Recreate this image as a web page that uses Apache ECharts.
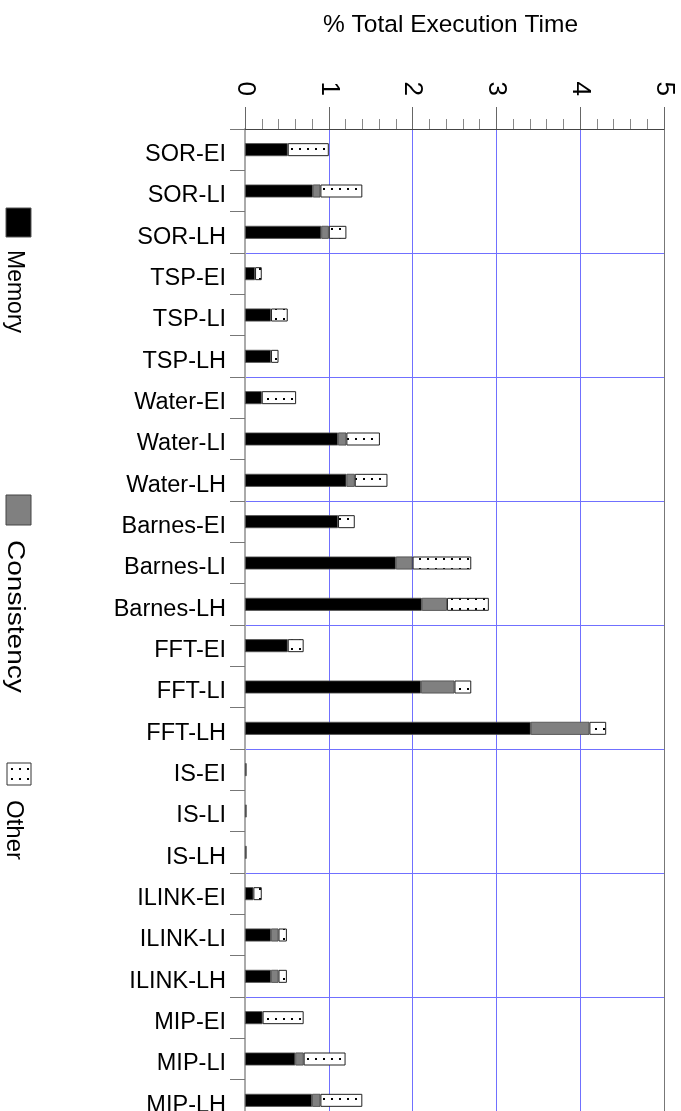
<!DOCTYPE html>
<html><head><meta charset="utf-8">
<script src="https://cdn.jsdelivr.net/npm/echarts@6/dist/echarts.min.js"></script>
<style>html,body{margin:0;padding:0;background:#fff;overflow:hidden}#c{width:681px;height:1121px}</style>
</head><body><div id="c"></div>
<script>
const categories = ['SOR-EI','SOR-LI','SOR-LH','TSP-EI','TSP-LI','TSP-LH','Water-EI','Water-LI','Water-LH','Barnes-EI','Barnes-LI','Barnes-LH','FFT-EI','FFT-LI','FFT-LH','IS-EI','IS-LI','IS-LH','ILINK-EI','ILINK-LI','ILINK-LH','MIP-EI','MIP-LI','MIP-LH'];
const memory      = [0.51,0.81,0.91, 0.12,0.31,0.31, 0.20,1.11,1.21, 1.11,1.80,2.11, 0.51,2.10,3.41, 0.02,0.02,0.02, 0.10,0.31,0.31, 0.21,0.60,0.80];
const consistency = [0,   0.09,0.09, 0,   0,   0,    0,   0.10,0.10, 0,   0.20,0.30, 0,   0.40,0.70, 0,   0,   0,    0,   0.09,0.09, 0,   0.10,0.10];
const other       = [0.49,0.50,0.21, 0.08,0.20,0.09, 0.41,0.40,0.39, 0.20,0.70,0.50, 0.19,0.20,0.20, 0,   0,   0,    0.10,0.10,0.10, 0.49,0.50,0.50];
const seriesNames = ['Memory','Consistency','Other'];
const xTickValues = [0,1,2,3,4,5];
const groupSize = 3;

const FONT = "'Liberation Sans', Arial, Helvetica, sans-serif";
const BLUE = '#7070ff';

function dotPattern(){
  const c=document.createElement('canvas');c.width=8;c.height=10;
  const g=c.getContext('2d');g.fillStyle='#fff';g.fillRect(0,0,8,10);
  g.fillStyle='#000';g.fillRect(3,8,2,2);return c;
}
const pat = {image: dotPattern(), repeat: 'repeat'};
const nz = a => a.map(v => v === 0 ? null : v);

const chart = echarts.init(document.getElementById('c'));
chart.setOption({
  animation:false,
  backgroundColor:'#fff',
  textStyle:{fontFamily:FONT},
  title:{text:'% Total Execution Time', left:318, top:8,
    textStyle:{fontSize:24.5,fontWeight:'normal',color:'#000',fontFamily:FONT}},
  grid:{left:245,right:17,top:129,height:992,containLabel:false},
  xAxis:{type:'value',position:'top',min:xTickValues[0],max:xTickValues[xTickValues.length-1],interval:1,
    axisLine:{show:true,lineStyle:{color:'#444',width:1}},
    axisTick:{show:true,length:22,lineStyle:{color:'#666'}},
    minorTick:{show:true,splitNumber:5,length:10,lineStyle:{color:'#888'}},
    axisLabel:{rotate:-90,margin:33,fontSize:26,color:'#000',fontFamily:FONT},
    splitLine:{show:true,lineStyle:{color:['#aaa',BLUE,BLUE,BLUE,BLUE,'#777'],width:1}}
  },
  yAxis:[{type:'category',data:categories,inverse:true,
    axisLine:{show:true,lineStyle:{color:'#aaa',width:2}},
    axisTick:{show:true,length:15,interval:0,lineStyle:{color:'#777'}},
    axisLabel:{margin:19,interval:0,formatter:v => '{a|' + v + '}',
      rich:{a:{fontSize:23.5,color:'#000',fontFamily:FONT,padding:[10,0,0,0]}}},
    splitLine:{show:false}
  },{type:'value',min:0,max:categories.length/groupSize,interval:1,inverse:true,
    axisLine:{show:false},axisTick:{show:false},axisLabel:{show:false},
    splitLine:{show:true,lineStyle:{color:BLUE,width:1}}
  }],
  series:[
    {name:seriesNames[0],type:'bar',stack:'t',barWidth:13,data:nz(memory),
      itemStyle:{color:'#000',borderColor:'#555',borderWidth:0.8}},
    {name:seriesNames[1],type:'bar',stack:'t',barWidth:13,data:nz(consistency),
      itemStyle:{color:'#808080',borderColor:'#444',borderWidth:0.8}},
    {name:seriesNames[2],type:'bar',stack:'t',barWidth:13,data:nz(other),
      itemStyle:{color:pat,borderColor:'#222',borderWidth:1}}
  ],
  graphic:[
    {type:'rect',shape:{x:6,y:208,width:25,height:29},style:{fill:'#000',stroke:'#555',lineWidth:1}},
    {type:'text',x:14,y:250,rotation:-Math.PI/2,style:{text:seriesNames[0],fontSize:23,fontFamily:FONT,fill:'#000',textAlign:'left',textVerticalAlign:'middle'}},
    {type:'rect',shape:{x:6,y:495,width:25,height:30},style:{fill:'#808080',stroke:'#444',lineWidth:1}},
    {type:'text',x:14,y:540,rotation:-Math.PI/2,scaleX:1.22,style:{text:seriesNames[1],fontSize:23,fontFamily:FONT,fill:'#000',textAlign:'left',textVerticalAlign:'middle'}},
    {type:'rect',shape:{x:7,y:763,width:24,height:22},style:{fill:pat,stroke:'#333',lineWidth:1}},
    {type:'text',x:14,y:800,rotation:-Math.PI/2,style:{text:seriesNames[2],fontSize:24,fontFamily:FONT,fill:'#000',textAlign:'left',textVerticalAlign:'middle'}}
  ]
});
</script></body></html>
